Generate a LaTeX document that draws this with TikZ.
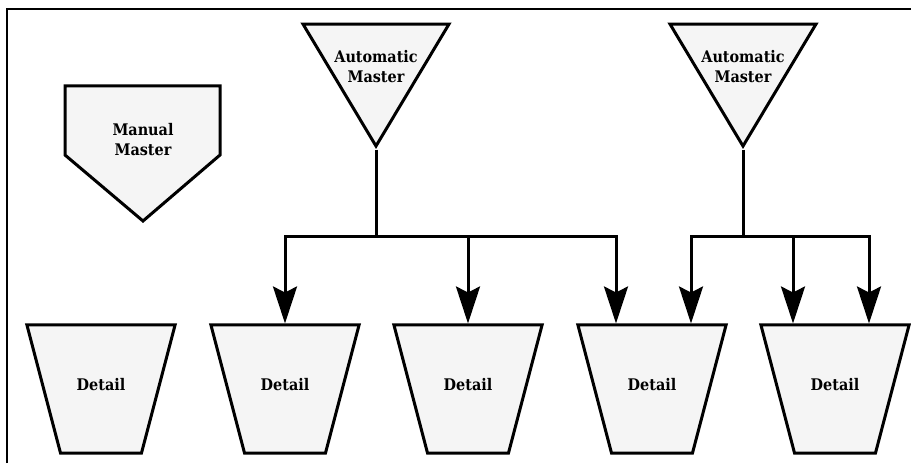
\documentclass[tikz,border=0pt]{standalone}
\usepackage{fontspec}
\setmainfont{DejaVu Serif Condensed}
\usetikzlibrary{shapes.geometric,arrows.meta}
\begin{document}
\begin{tikzpicture}[x=1pt,y=-1pt,
    every node/.style = {font=\fontsize{16}{20}\selectfont\bfseries, align=center},
    shade/.style = {draw, fill=black!4, line width=3pt},
    detail/.style = {shade, trapezium, shape border rotate=180, trapezium angle=75.3,
        text width=60pt, text height=11pt, text depth=9pt, inner xsep=10.5pt, inner ysep=54pt},
    automaster/.style = {shade, isosceles triangle, shape border rotate=-90,
        isosceles triangle stretches, minimum width=146pt, minimum height=122pt, inner sep=1pt},
    flow/.style = {line width=3pt, -{Stealth[length=37pt, width=24pt, inset=6pt]}}]
        \useasboundingbox (0,0) rectangle (911,465);
        \draw[line width=1.5pt] (7,463) -- (7,9) -- (911,9);
        %
        \filldraw[shade] (65,86) -- (220,86) -- (220,155) -- (143,221) -- (65,155) -- cycle;
        \node (mm) at (143,140) {Manual\\Master};
        %
        \node[automaster, anchor=apex] (am1) at (376,150) {};
        \node[automaster, anchor=apex] (am2) at (743,150) {};
        \node (am1text) at ([yshift=83pt]am1.apex) {Automatic\\Master};
        \node (am2text) at ([yshift=83pt]am2.apex) {Automatic\\Master};
        %
        \node[detail] (d1) at (101,389) {Detail};
        \node[detail] (d2) at (285,389) {Detail};
        \node[detail] (d3) at (468,389) {Detail};
        \node[detail] (d4) at (652,389) {Detail};
        \node[detail] (d5) at (835,389) {Detail};
        %
        \path (am1.apex) ++(0,87) coordinate (j1);
        \path (am2.apex) ++(0,87) coordinate (j2);
        \draw[flow] (am1.apex) -- (j1) -| (d2.north);
        \draw[flow] (am1.apex) -- (j1) -| (d3.north);
        \draw[flow] (am1.apex) -- (j1) -| ([xshift=-36pt]d4.north);
        \draw[flow] (am2.apex) -- (j2) -| ([xshift=39pt]d4.north);
        \draw[flow] (am2.apex) -- (j2) -| ([xshift=-42pt]d5.north);
        \draw[flow] (am2.apex) -- (j2) -| ([xshift=34pt]d5.north);
\end{tikzpicture}
\end{document}
